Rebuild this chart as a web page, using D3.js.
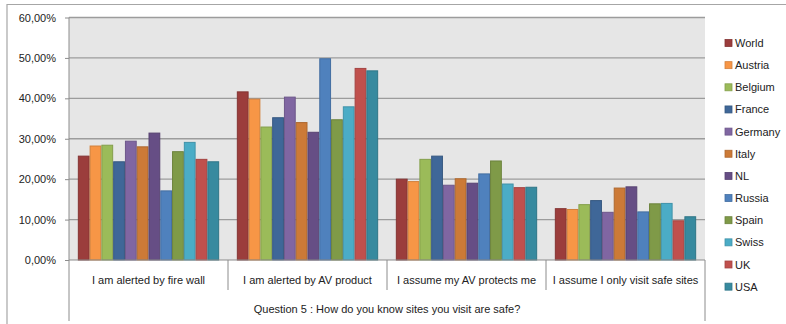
<!DOCTYPE html>
<html><head><meta charset="utf-8">
<script src="https://cdn.jsdelivr.net/npm/d3@7"></script>
<style>
html,body{margin:0;padding:0;background:#fff;}
svg{display:block;font-family:"Liberation Sans",Arial,sans-serif;}
</style></head>
<body><svg id="c" width="786" height="324"></svg>
<script>
const categories = ["I am alerted by fire wall","I am alerted by AV product","I assume my AV protects me","I assume I only visit safe sites"];
const seriesNames = ["World","Austria","Belgium","France","Germany","Italy","NL","Russia","Spain","Swiss","UK","USA"];
const seriesColors = ["#9B3D3C","#F79646","#9BBB59","#3F6798","#8066A2","#CC7A37","#664E85","#4F81BD","#7F9A48","#4BACC6","#C0504D","#378A9F"];
const World   = [0.257,0.416,0.200,0.127];
const Austria = [0.282,0.398,0.194,0.125];
const Belgium = [0.284,0.329,0.249,0.137];
const France  = [0.243,0.352,0.257,0.147];
const Germany = [0.294,0.403,0.185,0.118];
const Italy   = [0.280,0.340,0.201,0.178];
const NL      = [0.314,0.316,0.190,0.181];
const Russia  = [0.171,0.498,0.213,0.119];
const Spain   = [0.268,0.347,0.245,0.139];
const Swiss   = [0.291,0.379,0.188,0.140];
const UK      = [0.249,0.474,0.179,0.097];
const USA     = [0.243,0.468,0.180,0.107];
const seriesValues = [World,Austria,Belgium,France,Germany,Italy,NL,Russia,Spain,Swiss,UK,USA];
const yTicks = [0,0.1,0.2,0.3,0.4,0.5,0.6];
const axisTitle = "Question 5 : How do you know sites you visit are safe?";

const svg = d3.select("#c");
const L = 69, R = 705, T = 17.5, B = 260;
const y = d3.scaleLinear().domain([0,0.6]).range([B,T]);
const x0 = d3.scaleBand().domain(categories).range([L,R]).paddingInner(0).paddingOuter(0);
const gapRatio = 1.5;
const bw = x0.bandwidth()/(seriesNames.length+gapRatio);
const x1 = d3.scaleBand().domain(seriesNames)
  .range([bw*gapRatio/2, x0.bandwidth()-bw*gapRatio/2]).padding(0);

// outer frame
svg.append("line").attr("x1",7).attr("x2",786).attr("y1",4.5).attr("y2",4.5).attr("stroke","#a6a6a6").attr("stroke-width",1.2);
svg.append("line").attr("x1",7).attr("x2",7).attr("y1",4).attr("y2",324).attr("stroke","#a6a6a6").attr("stroke-width",1.2);

// plot background
svg.append("rect").attr("x",L).attr("y",T).attr("width",R-L).attr("height",B-T).attr("fill","#E6E6E6");

// gridlines
svg.append("g").selectAll("line").data(yTicks.filter(d=>d>0)).join("line")
  .attr("x1",L).attr("x2",R).attr("y1",d=>y(d)).attr("y2",d=>y(d))
  .attr("stroke","#9c9c9c").attr("stroke-width",1.4);

// bars
const groups = svg.append("g").selectAll("g").data(categories).join("g")
  .attr("transform",c=>`translate(${x0(c)},0)`);
groups.selectAll("rect").data((c,ci)=>seriesNames.map((s,si)=>({s,si,v:seriesValues[si][ci]}))).join("rect")
  .attr("x",d=>x1(d.s)+0.5).attr("width",x1.bandwidth()-1)
  .attr("y",d=>y(d.v)).attr("height",d=>B-y(d.v))
  .attr("fill",d=>seriesColors[d.si])
  .attr("stroke",d=>d3.color(seriesColors[d.si]).darker(0.45))
  .attr("stroke-width",1);

// y axis
const yAxis = d3.axisLeft(y).tickValues(yTicks).tickSize(4).tickPadding(9)
  .tickFormat(d=>d3.format(".2f")(d*100).replace(".",",")+"%");
const gy = svg.append("g").attr("transform",`translate(${L},0)`).call(yAxis);
gy.select(".domain").remove();
gy.selectAll(".tick line").attr("stroke","#8c8c8c");
gy.selectAll(".tick text").attr("font-size",11).attr("font-family","Liberation Sans, Arial, sans-serif").attr("fill","#222");
svg.append("line").attr("x1",L).attr("x2",L).attr("y1",T).attr("y2",321).attr("stroke","#8c8c8c");

// x axis
svg.append("line").attr("x1",L).attr("x2",R).attr("y1",B).attr("y2",B).attr("stroke","#8c8c8c");
svg.append("line").attr("x1",R).attr("x2",R).attr("y1",B).attr("y2",321).attr("stroke","#8c8c8c");
svg.append("g").selectAll("line").data(categories.slice(1)).join("line")
  .attr("x1",c=>x0(c)).attr("x2",c=>x0(c)).attr("y1",B).attr("y2",290).attr("stroke","#8c8c8c");
svg.append("g").selectAll("text").data(categories).join("text")
  .attr("x",c=>x0(c)+x0.bandwidth()/2).attr("y",284).attr("text-anchor","middle")
  .attr("font-size",11).attr("fill","#222").text(c=>c);
svg.append("text").attr("x",(L+R)/2).attr("y",313).attr("text-anchor","middle")
  .attr("font-size",11).attr("fill","#222").text(axisTitle);

// legend
const leg = svg.append("g").selectAll("g").data(seriesNames).join("g")
  .attr("transform",(d,i)=>`translate(725,${43+i*22.15})`);
leg.append("rect").attr("x",0).attr("y",-3.5).attr("width",7).attr("height",7)
  .attr("fill",(d,i)=>seriesColors[i]).attr("stroke",(d,i)=>d3.color(seriesColors[i]).darker(0.45)).attr("stroke-width",0.8);
leg.append("text").attr("x",10).attr("y",4).attr("font-size",11).attr("fill","#222").text(d=>d);
</script></body></html>
